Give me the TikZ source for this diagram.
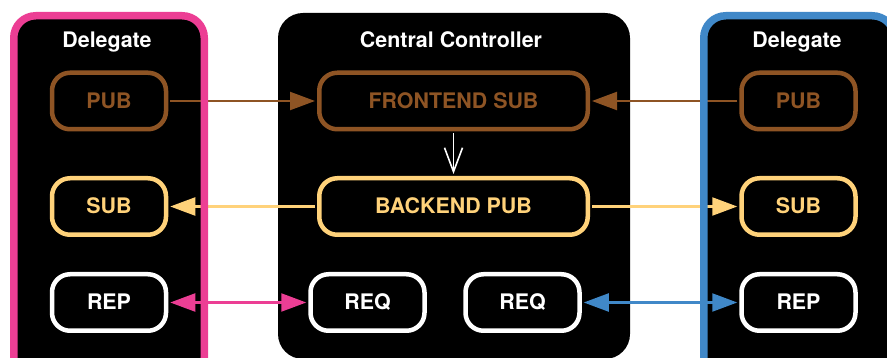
\documentclass[tikz,border=0pt]{standalone}
\usepackage{fontspec}
\setmainfont{TeX Gyre Heros}
\usepackage{tikz}
\usetikzlibrary{positioning,arrows.meta}

\definecolor{pubbrown}{RGB}{142,84,36}
\definecolor{subyellow}{RGB}{255,210,122}
\definecolor{reppink}{RGB}{236,62,148}
\definecolor{repblue}{RGB}{64,136,200}

\begin{document}
\begin{tikzpicture}[x=1pt,y=-1pt,font=\fontsize{21.4}{25}\selectfont\bfseries,
                    >={Triangle[length=25pt,width=18pt]}]
  \tikzstyle{sock}=[draw,fill=black,line width=4.5pt,rounded corners=18pt,
                    minimum width=114pt,minimum height=56.5pt,
                    text height=15pt,text depth=0pt,inner sep=0pt]
  \tikzstyle{title}=[text=white,anchor=base]
  \tikzstyle{link}=[line width=2.2pt,shorten >=2pt,shorten <=2pt]

  \useasboundingbox (0,0) rectangle (887,358);
  \clip (0,0) rectangle (887,358);

  % containers
  \fill[rounded corners=22pt] (13.75,15.75) rectangle (204.25,380);
  \fill[rounded corners=25pt] (278,13) rectangle (630,359);
  \fill[rounded corners=22pt] (703.75,15.75) rectangle (894.25,380);

  \node[title] (ltitle) at (107,48) {Delegate};
  \node[title] (ctitle) at (451,48) {Central Controller};
  \node[title] (rtitle) at (797,48) {Delegate};

  % sockets
  \node[pubbrown,sock]                       (lpub)  at (109,101)   {PUB};
  \node[subyellow,sock]                      (lsub)  at (109,206.5) {SUB};
  \node[white,sock]                          (lrep)  at (109,302.5) {REP};
  \node[pubbrown,sock,minimum width=268.5pt] (front) at (453.5,101) {FRONTEND SUB};
  \node[subyellow,sock,minimum width=268.5pt](back)  at (453.5,206.5) {BACKEND PUB};
  \node[white,sock]                          (req1)  at (367.5,302.5) {REQ};
  \node[white,sock]                          (req2)  at (522.5,302.5) {REQ};
  \node[pubbrown,sock]                       (rpub)  at (798.5,101)   {PUB};
  \node[subyellow,sock]                      (rsub)  at (798.5,206.5) {SUB};
  \node[white,sock]                          (rrep)  at (798.5,302.5) {REP};

  % links
  \draw[link,pubbrown,->]  (lpub) -- (front);
  \draw[link,pubbrown,->]  (rpub) -- (front);
  \draw[link,subyellow,->] (back) -- (lsub);
  \draw[link,subyellow,->] (back) -- (rsub);
  \draw[link,reppink,<->]  (lrep) -- (req1);
  \draw[link,repblue,<->]  (req2) -- (rrep);
  \draw[white,line width=1.6pt,shorten <=2pt,shorten >=2pt,
        -{Straight Barb[length=24pt,width=18pt]}] (front) -- (back);

  % container borders on top of the links
  \draw[reppink,line width=7.5pt,rounded corners=22pt] (13.75,15.75) rectangle (204.25,380);
  \draw[repblue,line width=7.5pt,rounded corners=22pt] (703.75,15.75) rectangle (894.25,380);
\end{tikzpicture}
\end{document}
